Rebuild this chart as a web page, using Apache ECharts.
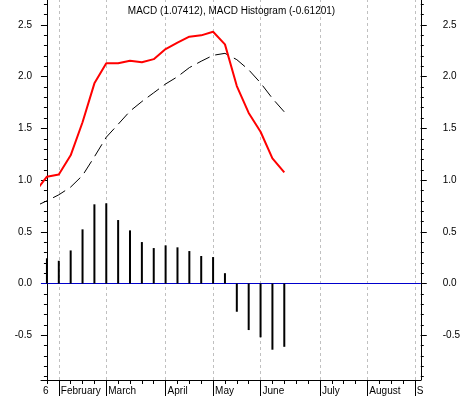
<!DOCTYPE html>
<html>
<head>
<meta charset="utf-8">
<script src="https://cdn.jsdelivr.net/npm/echarts@6/dist/echarts.min.js"></script>
<style>
  html, body { margin: 0; padding: 0; background: #fff; }
  #chart { width: 463px; height: 396px; }
</style>
</head>
<body>
<div id="chart"></div>
<script>
// weekly index: 0 = last week of January, month labels sit on the first week of each month
var monthStarts = [1, 5, 10, 14, 18, 23, 27, 31];
var labelPos = [-0.5, 1, 5, 10, 14, 18, 23, 27, 31];
var labelText = ['6', 'February', 'March', 'April', 'May', 'June', 'July', 'August', 'S'];
var weekTicks = [0, 1, 2, 3, 4, 5, 6, 7, 8, 9, 10, 11, 12, 13, 14, 15, 16, 17, 18, 19, 20,
    21, 22, 23, 24, 25, 26, 27, 28, 29, 30, 31];

var yMajor = [-0.5, 0, 0.5, 1, 1.5, 2, 2.5];
var yMinor = [];
for (var t = -9; t <= 27; t++) yMinor.push(t / 10);

// week index, value (week -1 lies left of the plot and is clipped)
var weeks = [-1, 0, 1, 2, 3, 4, 5, 6, 7, 8, 9, 10, 11, 12, 13, 14, 15, 16, 17, 18, 19, 20];
var macd = [0.886, 1.033, 1.055, 1.24, 1.56, 1.936, 2.13, 2.13, 2.155, 2.14, 2.17,
    2.268, 2.33, 2.387, 2.40, 2.435, 2.313, 1.91, 1.65, 1.468, 1.21, 1.074];
var signal = [0.746, 0.80, 0.858, 0.933, 1.045, 1.226, 1.415, 1.54, 1.667, 1.76, 1.845,
    1.93, 2.0, 2.088, 2.15, 2.207, 2.226, 2.165, 2.067, 1.94, 1.79, 1.66];
var histogram = [0.244, 0.22, 0.32, 0.524, 0.766, 0.776, 0.614, 0.514, 0.401, 0.343,
    0.369, 0.35, 0.314, 0.266, 0.256, 0.10, -0.273, -0.45, -0.52, -0.64, -0.612];

var FONT = 'Liberation Sans, Arial, sans-serif';
var Y_MIN = -0.933, Y_MAX = 2.742, X_MIN = -0.5, X_MAX = 31.5;

function pairs(xs, ys) {
    return ys.map(function (v, i) { return [xs[i], v]; });
}

var chart = echarts.init(document.getElementById('chart'), null, { renderer: 'canvas' });

function yAxis(pos, major, margin) {
    if (major) {
        return {
            type: 'value', position: pos, min: Y_MIN, max: Y_MAX,
            axisLine: { show: true, lineStyle: { color: '#000', width: 1 } },
            axisTick: { show: true, customValues: yMajor, length: 6, lineStyle: { color: '#000' } },
            axisLabel: {
                customValues: yMajor, margin: margin, color: '#000', fontSize: 10, fontFamily: FONT,
                formatter: function (v) { return v.toFixed(1); }
            },
            splitLine: { show: false }
        };
    }
    return {
        type: 'value', position: pos, min: Y_MIN, max: Y_MAX,
        axisLine: { show: false },
        axisTick: { show: true, customValues: yMinor, length: 3, lineStyle: { color: '#000' } },
        axisLabel: { show: false },
        splitLine: { show: false }
    };
}

chart.setOption({
    animation: false,
    backgroundColor: '#fff',
    title: {
        text: 'MACD (1.07412), MACD Histogram (-0.61201)',
        left: 'center', top: 1,
        textStyle: { color: '#000', fontSize: 10, fontWeight: 'normal', fontFamily: FONT }
    },
    grid: { left: 41, right: 40, top: 0, bottom: 16, containLabel: false },
    xAxis: [
        {
            type: 'value', min: X_MIN, max: X_MAX,
            axisLine: { show: true, onZero: false, lineStyle: { color: '#000', width: 1 } },
            axisTick: { show: true, customValues: weekTicks, length: 4, lineStyle: { color: '#000' } },
            axisLabel: {
                customValues: labelPos, align: 'left', margin: 6, padding: [0, 0, 0, 2],
                color: '#000', fontSize: 10, fontFamily: FONT,
                formatter: function (v) {
                    var i = labelPos.indexOf(v);
                    return i < 0 ? '' : labelText[i];
                }
            },
            splitLine: { show: false }
        },
        {
            type: 'value', min: X_MIN, max: X_MAX, position: 'bottom',
            axisLine: { show: false, onZero: false },
            axisTick: { show: true, customValues: monthStarts, length: 16, lineStyle: { color: '#000' } },
            axisLabel: { show: false },
            splitLine: { show: false }
        }
    ],
    yAxis: [
        yAxis('left', true, 9),
        yAxis('left', false),
        yAxis('right', true, 22),
        yAxis('right', false)
    ],
    series: [
        {
            name: 'MACD Histogram', type: 'bar',
            data: pairs(weeks.slice(1), histogram),
            barWidth: 2,
            itemStyle: { color: '#000' },
            markLine: {
                silent: true, symbol: 'none', z: 1,
                label: { show: false },
                lineStyle: { color: '#c0c0c0', type: [3, 3], width: 1 },
                data: monthStarts.map(function (m) { return { xAxis: m }; }).concat([
                    { yAxis: 0, lineStyle: { color: '#0000cc', type: 'solid', width: 1 } }
                ])
            }
        },
        {
            name: 'Signal', type: 'line', z: 6,
            data: pairs(weeks, signal),
            showSymbol: false, symbol: 'none',
            lineStyle: { color: '#000', width: 1, type: [14, 6] }
        },
        {
            name: 'MACD', type: 'line', z: 7,
            data: pairs(weeks, macd),
            showSymbol: false, symbol: 'none',
            lineStyle: { color: '#ff0000', width: 2 }
        }
    ]
});
</script>
</body>
</html>
